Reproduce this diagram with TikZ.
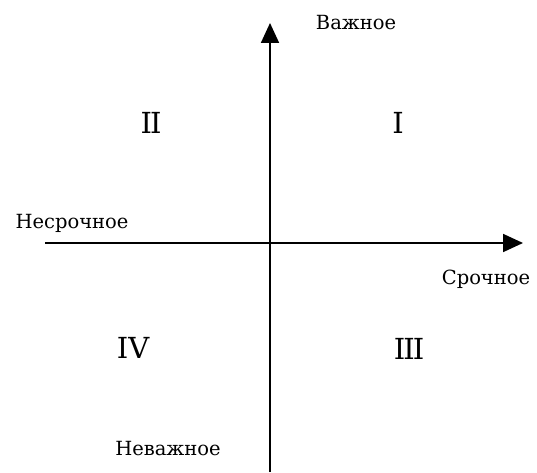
\documentclass[tikz,border=0pt]{standalone}
\usepackage{fontspec}
\setmainfont{DejaVu Serif}
\usetikzlibrary{arrows.meta}

\begin{document}
\begin{tikzpicture}[x=1pt, y=1pt,
    axis/.style={line width=1.8pt, -{Triangle[width=18pt, length=20pt]}},
    axislabel/.style={font=\fontsize{19.5}{22}\selectfont, inner sep=0pt, anchor=base},
    quadrant/.style={font=\fontsize{29}{31}\selectfont, inner sep=0pt, anchor=base}]
    \useasboundingbox (0,0) rectangle (537,472);
    % axes
    \coordinate (bottom) at (270,0);
    \coordinate (top) at (270,449);
    \coordinate (left) at (45,229);
    \coordinate (right) at (523,229);
    \draw [axis] (bottom) -- (top);
    \draw [axis] (left) -- (right);
    % axis labels
    \node [axislabel] (important) at (356,442) {Важное};
    \node [axislabel] (notimportant) at (168,17) {Неважное};
    \node [axislabel] (noturgent) at (72,244) {Несрочное};
    \node [axislabel] (urgent) at (486,188) {Срочное};
    % quadrants
    \node [quadrant] (q1) at (398,338) {I};
    \node [quadrant] (q2) at (151,338) {I\kern-2pt I};
    \node [quadrant] (q3) at (409,113) {I\kern-2pt I\kern-2pt I};
    \node [quadrant] (q4) at (133,114) {IV};
\end{tikzpicture}
\end{document}
